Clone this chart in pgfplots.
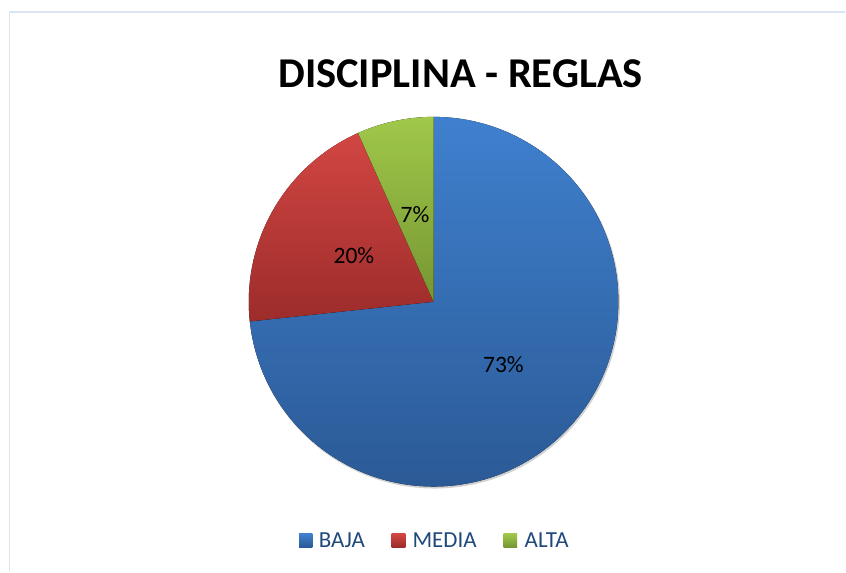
\documentclass[border=0pt]{standalone}
\usepackage{pgfplots}
\usepackage{pgfplotstable}
\pgfplotsset{compat=1.18}
\usepackage{fontspec}
\setmainfont{Carlito}
\definecolor{bajaT}{RGB}{63,128,206}
\definecolor{bajaB}{RGB}{43,90,150}
\definecolor{mediaT}{RGB}{210,70,67}
\definecolor{mediaB}{RGB}{156,44,42}
\definecolor{altaT}{RGB}{160,200,74}
\definecolor{altaB}{RGB}{118,150,50}
\definecolor{legtext}{RGB}{31,73,125}
\definecolor{framec}{RGB}{218,228,242}
\pgfplotstableread{
name value
BAJA 73.3
MEDIA 20.0
ALTA 6.7
}\piedata
\begin{document}
\begin{tikzpicture}
\pgfplotstablegetelem{0}{value}\of\piedata \let\vA\pgfplotsretval
\pgfplotstablegetelem{1}{value}\of\piedata \let\vB\pgfplotsretval
\pgfplotstablegetelem{2}{value}\of\piedata \let\vC\pgfplotsretval
\pgfmathsetmacro\sA{90}
\pgfmathsetmacro\eA{\sA-3.6*\vA}
\pgfmathsetmacro\eB{\eA-3.6*\vB}
\pgfmathsetmacro\eC{\eB-3.6*\vC}
\pgfmathsetmacro\mA{(\sA+\eA)/2}
\pgfmathsetmacro\mB{(\eA+\eB)/2}
\pgfmathsetmacro\mC{(\eB+\eC)/2}
\pgfmathtruncatemacro\lA{round(\vA)}
\pgfmathtruncatemacro\lB{round(\vB)}
\pgfmathtruncatemacro\lC{round(\vC)}
\begin{axis}[x=1pt,y=1pt,xmin=0,xmax=846,ymin=0,ymax=572,hide axis,clip=false,axis line style={draw=none}]
\path (axis cs:0,0) rectangle (axis cs:846,572);
% frame
\draw[framec,line width=1.6pt] (axis cs:9.5,0) -- (axis cs:9.5,560) -- (axis cs:846,560);
% title
\node[anchor=base,font=\fontsize{42.5}{50}\selectfont\bfseries] at (axis cs:461,484) {DISCIPLINA - REGLAS};
% shadow
\fill[black!18] (axis cs:435,268.5) circle[radius=185.5pt];
% wedges
\fill[top color=bajaT,bottom color=bajaB] (axis cs:434,270) -- ++(\sA:185pt) arc[start angle=\sA,end angle=\eA,radius=185pt] -- cycle;
\fill[top color=mediaT,bottom color=mediaB] (axis cs:434,270) -- ++(\eA:185pt) arc[start angle=\eA,end angle=\eB,radius=185pt] -- cycle;
\fill[top color=altaT,bottom color=altaB] (axis cs:434,270) -- ++(\eB:185pt) arc[start angle=\eB,end angle=\eC,radius=185pt] -- cycle;
% labels
\path (axis cs:434,270) ++(\mA:94pt) node[font=\fontsize{23.5}{28}\selectfont] {\lA\%};
\path (axis cs:434,270) ++(\mB:92pt) node[font=\fontsize{23.5}{28}\selectfont] {\lB\%};
\path (axis cs:434,270) ++(\mC:89pt) node[font=\fontsize{23.5}{28}\selectfont] {\lC\%};
% legend
\fill[top color=bajaT,bottom color=bajaB] (axis cs:299.3,24.3) rectangle (axis cs:312.7,37.7);
\node[anchor=base west,inner sep=0pt,text=legtext,font=\fontsize{23}{28}\selectfont] at (axis cs:319,23.7) {BAJA};
\fill[top color=mediaT,bottom color=mediaB] (axis cs:392,24.3) rectangle (axis cs:405.7,37.7);
\node[anchor=base west,inner sep=0pt,text=legtext,font=\fontsize{23}{28}\selectfont] at (axis cs:412.7,23.7) {MEDIA};
\fill[top color=altaT,bottom color=altaB] (axis cs:504,24.3) rectangle (axis cs:517.7,37.7);
\node[anchor=base west,inner sep=0pt,text=legtext,font=\fontsize{23}{28}\selectfont] at (axis cs:525,23.7) {ALTA};
\end{axis}
\end{tikzpicture}
\end{document}
